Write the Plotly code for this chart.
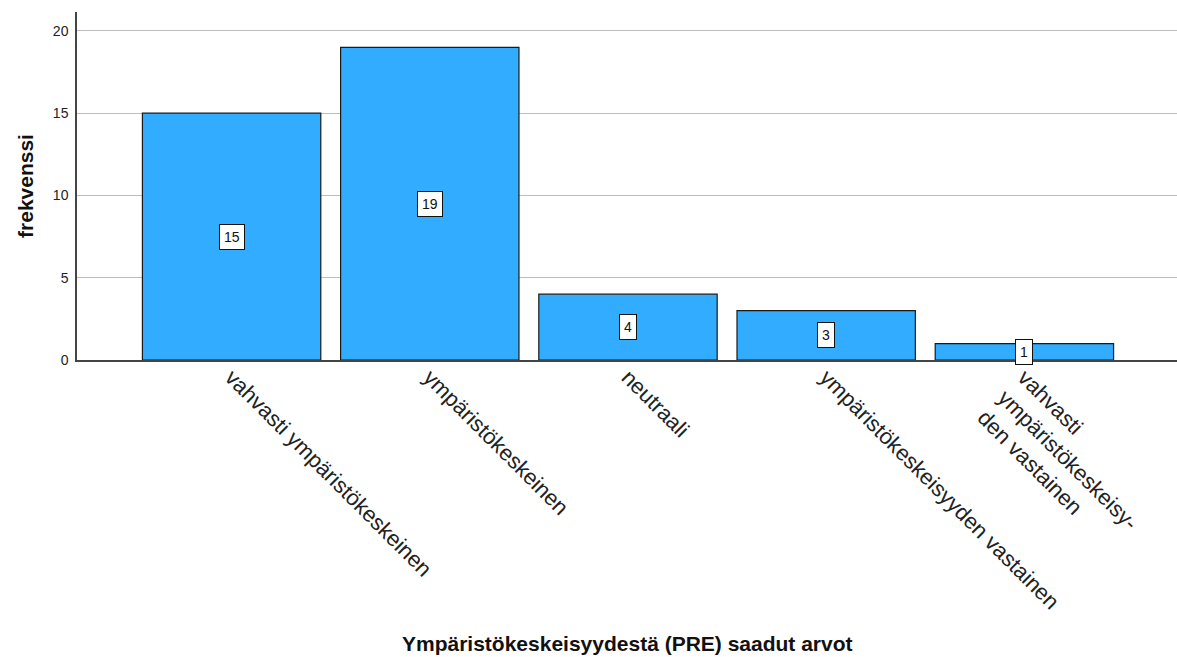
import plotly.graph_objects as go

# Frequencies of the PRE environmental attitude categories
categories = [
    "vahvasti ympäristökeskeinen",
    "ympäristökeskeinen",
    "neutraali",
    "ympäristökeskeisyyden vastainen",
    "vahvasti<br>ympäristökeskeisy-<br>den vastainen",
]
counts = [15, 19, 4, 3, 1]
y_ticks = [0, 5, 10, 15, 20]

x_pos = list(range(len(categories)))

fig = go.Figure(
    go.Bar(
        x=x_pos,
        y=counts,
        marker=dict(color="#31acff", line=dict(color="#1a1a1a", width=1.2)),
        width=0.9,
        hoverinfo="skip",
    )
)

# Boxed value labels at the middle of each bar
for xi, v in zip(x_pos, counts):
    fig.add_annotation(
        x=xi, y=v / 2, text=str(v), showarrow=False,
        font=dict(family="Liberation Sans, Arial", size=14, color="#111"),
        bgcolor="white", bordercolor="#111", borderwidth=1, borderpad=4,
    )

fig.add_annotation(
    x=0.5, y=0, xref="paper", yref="paper", yanchor="middle",
    yshift=-(643 - 360), showarrow=False,
    text="<b>Ympäristökeskeisyydestä (PRE) saadut arvot</b>",
    font=dict(family="Liberation Sans, Arial", size=21, color="#111"),
)

fig.update_layout(
    width=1177, height=657,
    margin=dict(l=77, r=0, t=12, b=297),
    plot_bgcolor="white", paper_bgcolor="white",
    showlegend=False,
    bargap=0.1,
    xaxis=dict(
        range=[-0.78, 4.77],
        tickmode="array", tickvals=x_pos, ticktext=categories,
        tickangle=45,
        tickfont=dict(family="Liberation Sans, Arial", size=22, color="#222"),
        showline=True, linecolor="#444", linewidth=1.5,
        showgrid=False, ticks="", zeroline=False,
        ticklabelstandoff=-6,
    ),
    yaxis=dict(
        range=[0, 21.15],
        tickmode="array", tickvals=y_ticks,
        tickfont=dict(family="Liberation Sans, Arial", size=14, color="#222"),
        showline=True, linecolor="#444", linewidth=1.5,
        showgrid=True, gridcolor="#bdbdbd", gridwidth=1,
        ticks="", zeroline=False, ticklabelstandoff=4,
        title=dict(text="<b>frekvenssi</b>", standoff=14,
                   font=dict(family="Liberation Sans, Arial", size=21, color="#111")),
    ),
)

fig.write_html("out.html")
